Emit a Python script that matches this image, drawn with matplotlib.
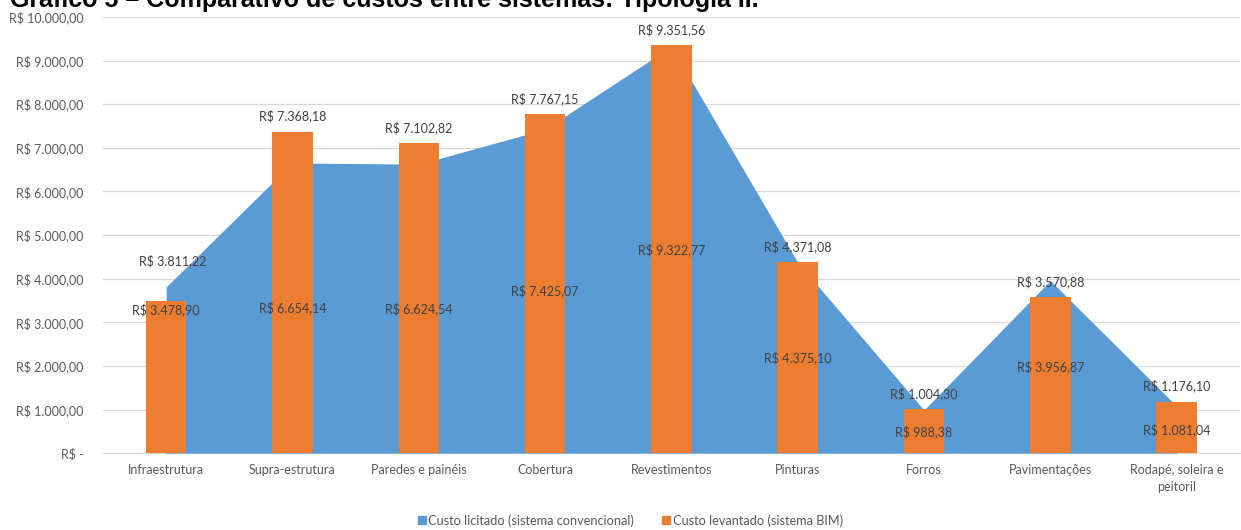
import numpy as np
import matplotlib.pyplot as plt
from matplotlib.patches import Patch

categories = ["Infraestrutura", "Supra-estrutura", "Paredes e painéis", "Cobertura",
              "Revestimentos", "Pinturas", "Forros", "Pavimentações",
              "Rodapé, soleira e\npeitoril"]
custo_licitado = [3811.22, 6654.14, 6624.54, 7425.07, 9322.77, 4375.10, 988.38, 3956.87, 1081.04]
custo_levantado = [3478.90, 7368.18, 7102.82, 7767.15, 9351.56, 4371.08, 1004.30, 3570.88, 1176.10]
y_ticks = list(range(0, 10001, 1000))

BLUE = "#5B9BD5"
ORANGE = "#ED7D31"
TXT = "#595959"
FONT = ["Lato", "DejaVu Sans"]


def brl(v):
    s = f"{v:,.2f}"
    return "R$ " + s.replace(",", "X").replace(".", ",").replace("X", ".")


def tick_fmt(v):
    return "R$ -" if v == 0 else brl(v)


plt.rcParams["font.family"] = FONT

fig = plt.figure(figsize=(12.41, 5.30), dpi=100)
ax = fig.add_axes([0.083, 0.145, 0.916, 0.823])

x = np.arange(len(categories))
ax.fill_between(x, custo_licitado, 0, color=BLUE, linewidth=0, zorder=2)
ax.bar(x, custo_levantado, width=0.32, color=ORANGE, zorder=3)

# data labels (area ones sit mid-height, bar ones above the bar)
for i, v in enumerate(custo_licitado):
    yy = v + 590 if i == 0 else v / 2
    ax.text(x[i] + (0.05 if i == 0 else 0), yy, brl(v), ha="center", va="center",
            fontsize=9, color="#404040", zorder=4)
for i, v in enumerate(custo_levantado):
    yy = v - 180 if i == 0 else v + 360
    ax.text(x[i], yy, brl(v), ha="center", va="center",
            fontsize=9, color="#404040", zorder=4)

ax.set_xlim(-0.5, len(categories) - 0.5)
ax.set_ylim(0, 10000)
ax.set_yticks(y_ticks)
ax.set_yticklabels([tick_fmt(v) for v in y_ticks], fontsize=9, color=TXT)
ax.set_xticks(x)
ax.set_xticklabels(categories, fontsize=9, color=TXT, linespacing=1.5)
ax.tick_params(length=0, pad=14)
ax.tick_params(axis="x", pad=8)
ax.grid(axis="y", color="#D9D9D9", linewidth=0.9, zorder=0)
ax.set_axisbelow(True)
for s in ["top", "right", "left"]:
    ax.spines[s].set_visible(False)
ax.spines["bottom"].set_color("#D9D9D9")
ax.spines["bottom"].set_zorder(1)

handles = [Patch(color=BLUE, label="Custo licitado (sistema convencional)"),
           Patch(color=ORANGE, label="Custo levantado (sistema BIM)")]
fig.legend(handles=handles, loc="center", bbox_to_anchor=(0.508, 0.018), ncol=2,
           frameon=False, fontsize=9.2, handlelength=0.6, handleheight=0.6,
           handletextpad=0.2, columnspacing=2.2, labelcolor=TXT)

# title is cropped at the top edge in the reference scan
fig.text(0.008, 0.987, "Gráfico 5 – Comparativo de custos entre sistemas: Tipologia II.",
         ha="left", va="baseline", fontsize=18, fontweight="bold",
         family=["Liberation Sans", "DejaVu Sans"])

fig.savefig("out.png", dpi=100)
